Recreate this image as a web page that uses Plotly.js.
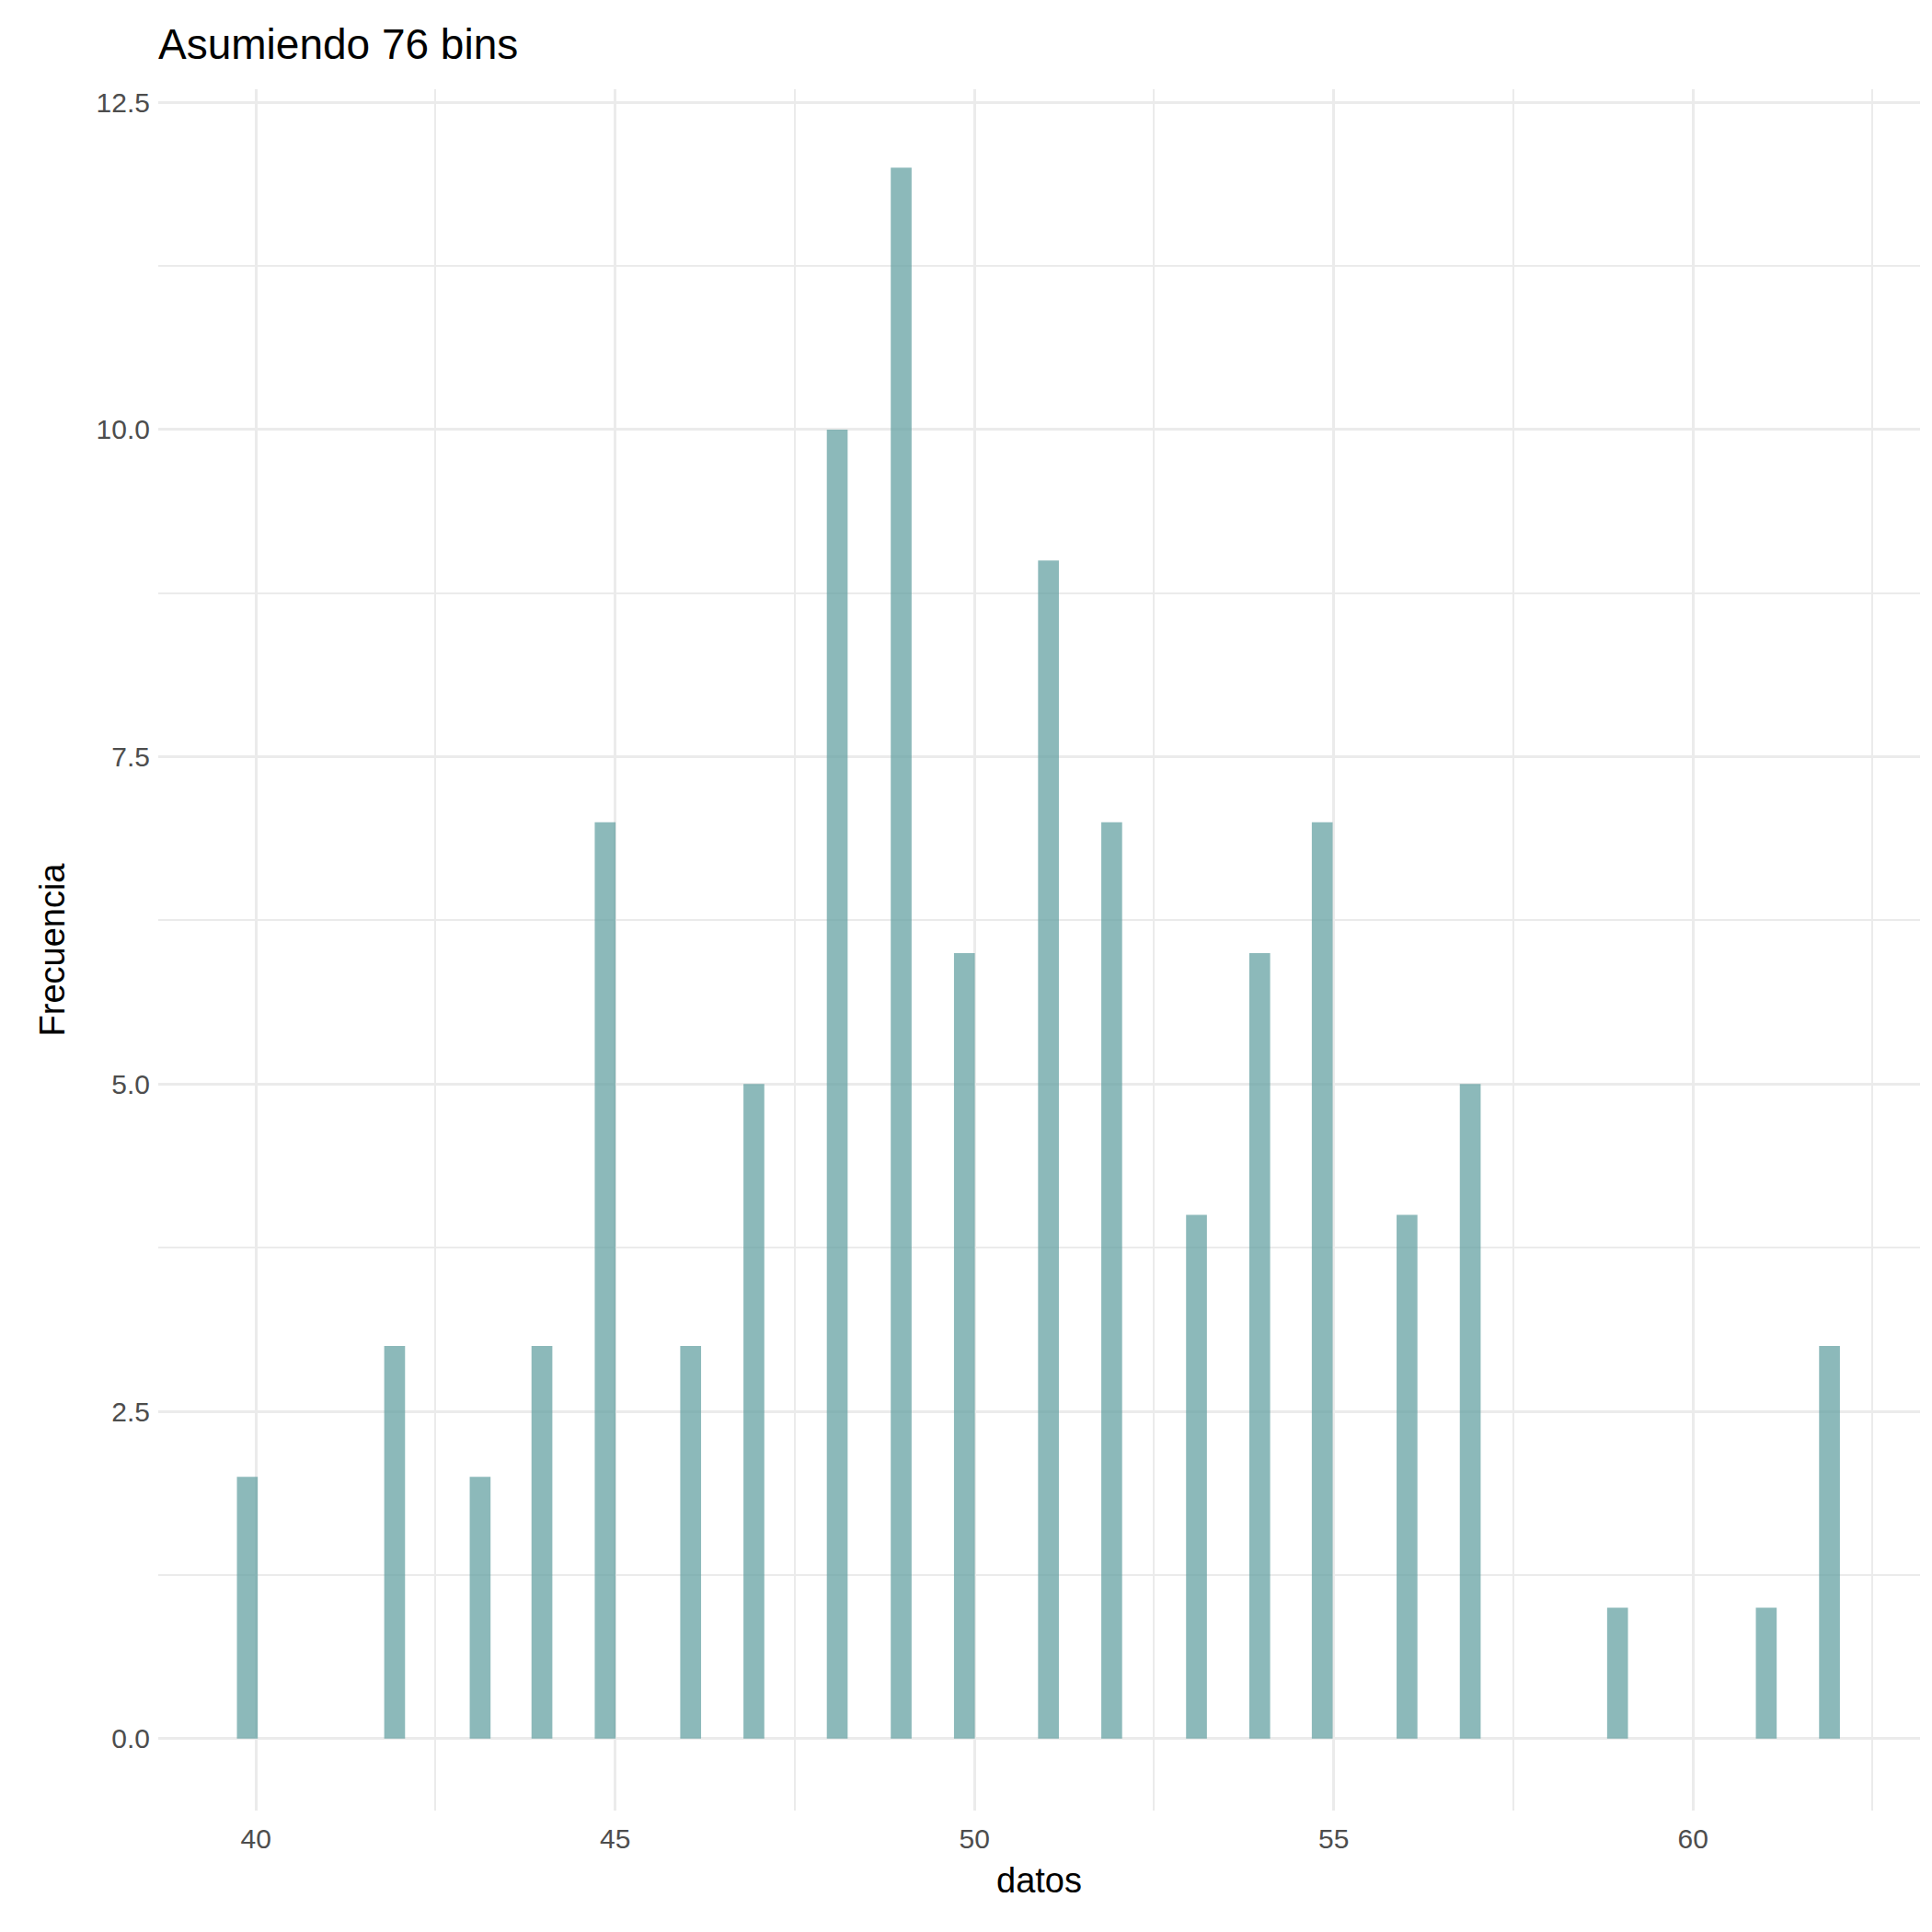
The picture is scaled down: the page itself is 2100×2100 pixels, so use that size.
<!DOCTYPE html>
<html>
<head>
<meta charset="utf-8">
<script src="https://cdn.plot.ly/plotly-3.0.1.min.js"></script>
<style>body{margin:0;background:#fff}#chart{width:2100px;height:2100px}</style>
</head>
<body>
<div id="chart"></div>
<script>
// bin centres (76 bins, width ~0.29) and counts
var binCenters = [39.88, 41.93, 43.12, 43.98, 44.86, 46.05, 46.93, 48.09, 48.98, 49.86,
                  51.03, 51.91, 53.09, 53.97, 54.84, 56.02, 56.90, 58.95, 61.02, 61.90];
var counts = [2, 3, 2, 3, 7, 3, 5, 10, 12, 6, 9, 7, 4, 6, 7, 4, 5, 1, 1, 3];
var binWidth = 0.29;

var hist = {
  x: binCenters,
  y: counts,
  type: 'bar',
  width: binWidth,
  marker: {color: 'cadetblue', opacity: 0.72},
  hoverinfo: 'x+y'
};

var gridCol = '#ebebeb';
var layout = {
  width: 2100, height: 2100,
  paper_bgcolor: '#fff', plot_bgcolor: '#fff',
  font: {family: 'Liberation Sans, Arial, sans-serif', color: '#4d4d4d'},
  margin: {l: 172, r: 13, t: 97, b: 132},
  title: {text: 'Asumiendo 76 bins', x: 0, xref: 'paper', xanchor: 'left', y: 0.977, yanchor: 'middle',
          font: {size: 46, color: '#000'}},
  showlegend: false,
  xaxis: {
    range: [38.64, 63.16], tickvals: [40, 45, 50, 55, 60], zeroline: false,
    showgrid: true, gridcolor: gridCol, gridwidth: 3,
    minor: {tickvals: [42.5, 47.5, 52.5, 57.5, 62.5], showgrid: true, gridcolor: gridCol, gridwidth: 1.5},
    tickfont: {size: 30, color: '#4d4d4d'}, ticks: '', ticklabelstandoff: 10,
    title: {text: 'datos', font: {size: 38, color: '#000'}, standoff: 16}
  },
  yaxis: {
    range: [-0.55, 12.6], tickvals: [0, 2.5, 5, 7.5, 10, 12.5],
    ticktext: ['0.0', '2.5', '5.0', '7.5', '10.0', '12.5'], zeroline: false,
    showgrid: true, gridcolor: gridCol, gridwidth: 3,
    minor: {tickvals: [1.25, 3.75, 6.25, 8.75, 11.25], showgrid: true, gridcolor: gridCol, gridwidth: 1.5},
    tickfont: {size: 30, color: '#4d4d4d'}, ticks: '', ticklabelstandoff: 8,
    title: {text: 'Frecuencia', font: {size: 38, color: '#000'}, standoff: 22}
  }
};

Plotly.newPlot('chart', [hist], layout, {displayModeBar: false});
</script>
</body>
</html>
